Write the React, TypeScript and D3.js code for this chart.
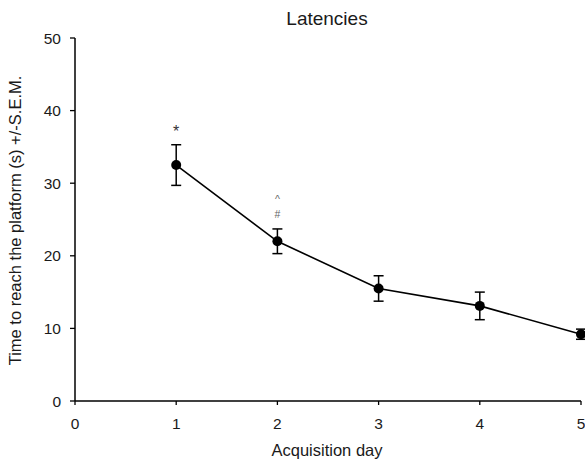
import React from "react";
import * as d3 from "d3";

// Acquisition days and mean latency (s) with S.E.M.
const days = [1, 2, 3, 4, 5];
const meanLatency = [32.5, 22.0, 15.5, 13.1, 9.2];
const semLatency = [2.8, 1.7, 1.75, 1.9, 0.7];

// Significance markers drawn above the error bars (top line first)
const markerDays = [1, 2];
const markerLines = [["*"], ["^", "#"]];

const xTicks = [0, 1, 2, 3, 4, 5];
const yTicks = [0, 10, 20, 30, 40, 50];

const W = 585;
const H = 462;
const FONT = "'Liberation Sans', Arial, sans-serif";
const TEXT = "#1a1a1a";

export default function App() {
  const x = d3.scaleLinear().domain([0, 5]).range([75, 581]);
  const y = d3.scaleLinear().domain([0, 50]).range([401, 38]);

  const rows = days.map((d, i) => ({ day: d, mean: meanLatency[i], sem: semLatency[i] }));

  const line = d3
    .line<{ day: number; mean: number }>()
    .x((d) => x(d.day))
    .y((d) => y(d.mean));

  const capHalf = 5;

  return (
    <svg
      width={W}
      height={H}
      style={{ position: "absolute", left: 0, top: 0, background: "#fff" }}
      fontFamily={FONT}
    >
      {/* title */}
      <text x={327} y={25} textAnchor="middle" fontSize={19} fill={TEXT}>
        Latencies
      </text>

      {/* y axis */}
      <line x1={x(0)} x2={x(0)} y1={y(0)} y2={y(50)} stroke="#000" strokeWidth={1.5} />
      {yTicks.map((t) => (
        <g key={"y" + t}>
          <line x1={x(0) - 5} x2={x(0)} y1={y(t)} y2={y(t)} stroke="#000" strokeWidth={1.3} />
          <text
            x={x(0) - 14}
            y={y(t)}
            dy="0.36em"
            textAnchor="end"
            fontSize={15.5}
            fill={TEXT}
          >
            {t}
          </text>
        </g>
      ))}

      {/* x axis */}
      <line x1={x(0)} x2={x(5)} y1={y(0)} y2={y(0)} stroke="#000" strokeWidth={1.5} />
      {xTicks.map((t) => (
        <g key={"x" + t}>
          <line x1={x(t)} x2={x(t)} y1={y(0)} y2={y(0) + 4} stroke="#000" strokeWidth={1.3} />
          <text x={x(t)} y={429} textAnchor="middle" fontSize={15.5} fill={TEXT}>
            {t}
          </text>
        </g>
      ))}

      {/* axis titles */}
      <text x={327} y={456} textAnchor="middle" fontSize={16.5} fill={TEXT}>
        Acquisition day
      </text>
      <text
        transform={`translate(21,${220.5}) rotate(-90)`}
        textAnchor="middle"
        fontSize={16.5}
        fill={TEXT}
      >
        Time to reach the platform (s) +/-S.E.M.
      </text>

      {/* mean line */}
      <path d={line(rows) || ""} fill="none" stroke="#000" strokeWidth={1.6} />

      {/* error bars */}
      {rows.map((r) => {
        const cx = x(r.day);
        const top = y(r.mean + r.sem);
        const bot = y(r.mean - r.sem);
        return (
          <g key={"e" + r.day} stroke="#000" strokeWidth={1.5}>
            <line x1={cx} x2={cx} y1={top} y2={bot} />
            <line x1={cx - capHalf} x2={cx + capHalf} y1={top} y2={top} />
            <line x1={cx - capHalf} x2={cx + capHalf} y1={bot} y2={bot} />
          </g>
        );
      })}

      {/* points */}
      {rows.map((r) => (
        <circle key={"p" + r.day} cx={x(r.day)} cy={y(r.mean)} r={5} fill="#000" />
      ))}

      {/* significance markers */}
      {markerDays.map((d, i) => {
        const r = rows[days.indexOf(d)];
        const top = y(r.mean + r.sem);
        const linesTxt = markerLines[i];
        return (
          <g key={"m" + d}>
            {linesTxt.map((s, j) => (
              <text
                key={j}
                x={x(d)}
                y={top - (s === "*" ? 8 : 10.5) - (linesTxt.length - 1 - j) * 15.5}
                textAnchor="middle"
                fontSize={s === "*" ? 16 : 10.5}
                fill={s === "*" ? "#333" : "#666"}
              >
                {s}
              </text>
            ))}
          </g>
        );
      })}
    </svg>
  );
}
